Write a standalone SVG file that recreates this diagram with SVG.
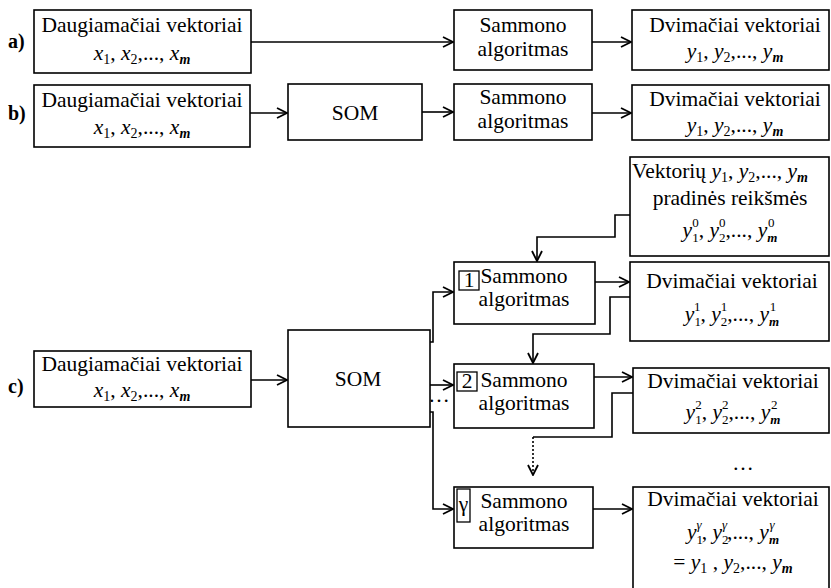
<svg xmlns="http://www.w3.org/2000/svg" width="831" height="588" viewBox="0 0 831 588">
<defs>
<style>
.b{fill:#fff;stroke:#000;stroke-width:1.6}
.sb{fill:none;stroke:#000;stroke-width:1.3}
.t{font-family:"Liberation Serif","Times New Roman",serif;font-size:21.5px;fill:#000}
.c{text-anchor:middle}
.lab{font-family:"Liberation Serif","Times New Roman",serif;font-size:20px;font-weight:bold}
.i{font-style:italic}
.s{font-size:14px;font-style:normal}
.p{font-size:13px;font-style:normal}
.sm{font-size:14px;font-style:italic;font-weight:bold}
.pm{font-size:13px;font-style:italic;font-weight:bold}
.sg{font-size:13px;font-style:italic}
.k{fill:none;stroke:#000;stroke-width:1.6}
.d{stroke-dasharray:2 2}
</style>
<marker id="ar" viewBox="0 0 12 12" refX="11" refY="6" markerWidth="12" markerHeight="12" markerUnits="userSpaceOnUse" orient="auto">
<path d="M1,1 L11,6 L1,11" fill="none" stroke="#000" stroke-width="1.8"/>
</marker>
</defs>
<rect width="831" height="588" fill="#fff"/>

<text class="lab" x="8" y="48">a)</text>
<text class="lab" x="8" y="120">b)</text>
<text class="lab" x="8" y="393">c)</text>

<g id="connectors">
<path class="k" d="M251,42 H453" marker-end="url(#ar)"/>
<path class="k" d="M592,42 H631" marker-end="url(#ar)"/>
<path class="k" d="M250,113 H287" marker-end="url(#ar)"/>
<path class="k" d="M422,112 H453" marker-end="url(#ar)"/>
<path class="k" d="M592,113 H631" marker-end="url(#ar)"/>
<path class="k" d="M251,380 H287" marker-end="url(#ar)"/>
<path class="k" d="M430,342 H433 V292 H453" marker-end="url(#ar)"/>
<path class="k" d="M430,385 H453" marker-end="url(#ar)"/>
<path class="k" d="M430,412 H433 V509 H453" marker-end="url(#ar)"/>
<path class="k" d="M630,215 H615 V237 H537 V261" marker-end="url(#ar)"/>
<path class="k" d="M595,282 H629" marker-end="url(#ar)"/>
<path class="k" d="M630,297 H610 V334 H533 V363" marker-end="url(#ar)"/>
<path class="k" d="M594,377 H632" marker-end="url(#ar)"/>
<path class="k" d="M633,393 H612 V437 H533"/>
<path class="k d" d="M533,437 V475" marker-end="url(#ar)"/>
<path class="k" d="M593,509 H632" marker-end="url(#ar)"/>
<text class="t c" x="439" y="402" font-size="18">…</text>
<text class="t c" x="743" y="470" font-size="18">…</text>
</g>

<g id="a_in">
<rect class="b" x="34" y="10" width="217" height="63"/>
<text class="t c" x="142" y="32">Daugiamačiai vektoriai</text>
<text class="t c" x="142" y="60"><tspan class="i">x</tspan><tspan class="s" dy="4">1</tspan><tspan dy="-4">, </tspan><tspan class="i">x</tspan><tspan class="s" dy="4">2</tspan><tspan dy="-4">,..., </tspan><tspan class="i">x</tspan><tspan class="sm" dy="4">m</tspan></text>
</g>
<g id="a_sam">
<rect class="b" x="454" y="10" width="138" height="60"/>
<text class="t c" x="523" y="32">Sammono</text>
<text class="t c" x="523" y="56">algoritmas</text>
</g>
<g id="a_out">
<rect class="b" x="632" y="10" width="197" height="60"/>
<text class="t c" x="735" y="32">Dvimačiai vektoriai</text>
<text class="t c" x="735" y="58"><tspan class="i">y</tspan><tspan class="s" dy="4">1</tspan><tspan dy="-4">, </tspan><tspan class="i">y</tspan><tspan class="s" dy="4">2</tspan><tspan dy="-4">,..., </tspan><tspan class="i">y</tspan><tspan class="sm" dy="4">m</tspan></text>
</g>

<g id="b_in">
<rect class="b" x="34" y="85" width="216" height="62"/>
<text class="t c" x="142" y="107">Daugiamačiai vektoriai</text>
<text class="t c" x="142" y="134"><tspan class="i">x</tspan><tspan class="s" dy="4">1</tspan><tspan dy="-4">, </tspan><tspan class="i">x</tspan><tspan class="s" dy="4">2</tspan><tspan dy="-4">,..., </tspan><tspan class="i">x</tspan><tspan class="sm" dy="4">m</tspan></text>
</g>
<g id="b_som">
<rect class="b" x="288" y="84" width="134" height="56"/>
<text class="t c" x="355" y="120" font-size="22.5">SOM</text>
</g>
<g id="b_sam">
<rect class="b" x="454" y="84" width="138" height="56"/>
<text class="t c" x="523" y="104">Sammono</text>
<text class="t c" x="523" y="128">algoritmas</text>
</g>
<g id="b_out">
<rect class="b" x="632" y="85" width="197" height="55"/>
<text class="t c" x="735" y="106">Dvimačiai vektoriai</text>
<text class="t c" x="735" y="132"><tspan class="i">y</tspan><tspan class="s" dy="4">1</tspan><tspan dy="-4">, </tspan><tspan class="i">y</tspan><tspan class="s" dy="4">2</tspan><tspan dy="-4">,..., </tspan><tspan class="i">y</tspan><tspan class="sm" dy="4">m</tspan></text>
</g>

<g id="c_in">
<rect class="b" x="34" y="351" width="217" height="56"/>
<text class="t c" x="142" y="371">Daugiamačiai vektoriai</text>
<text class="t c" x="142" y="397"><tspan class="i">x</tspan><tspan class="s" dy="4">1</tspan><tspan dy="-4">, </tspan><tspan class="i">x</tspan><tspan class="s" dy="4">2</tspan><tspan dy="-4">,..., </tspan><tspan class="i">x</tspan><tspan class="sm" dy="4">m</tspan></text>
</g>
<g id="c_som">
<rect class="b" x="288" y="330" width="142" height="97"/>
<text class="t c" x="358" y="386" font-size="22.5">SOM</text>
</g>

<g id="c_init">
<rect class="b" x="630" y="157" width="199" height="99"/>
<text class="t" x="632" y="178">Vektorių  <tspan class="i">y</tspan><tspan class="s" dy="4">1</tspan><tspan dy="-4">, </tspan><tspan class="i">y</tspan><tspan class="s" dy="4">2</tspan><tspan dy="-4">,..., </tspan><tspan class="i">y</tspan><tspan class="sm" dy="4">m</tspan></text>
<text class="t c" x="730" y="205">pradinės reikšmės</text>
<text class="t c" x="730" y="237"><tspan class="i">y</tspan><tspan class="p" dy="5">1</tspan><tspan class="p" dx="-6.5" dy="-15">0</tspan><tspan dy="10">, </tspan><tspan class="i">y</tspan><tspan class="p" dy="5">2</tspan><tspan class="p" dx="-6.5" dy="-15">0</tspan><tspan dy="10">,..., </tspan><tspan class="i">y</tspan><tspan class="pm" dy="5">m</tspan><tspan class="p" dx="-9.5" dy="-15">0</tspan></text>
</g>

<g id="c_sam1">
<rect class="b" x="454" y="262" width="141" height="62"/>
<rect class="sb" x="459" y="271" width="20" height="19"/>
<text class="t c" x="469" y="287" font-size="16">1</text>
<text class="t c" x="524" y="283">Sammono</text>
<text class="t c" x="524" y="306">algoritmas</text>
</g>
<g id="c_out1">
<rect class="b" x="630" y="262" width="199" height="79"/>
<text class="t c" x="732" y="288">Dvimačiai vektoriai</text>
<text class="t c" x="732" y="321"><tspan class="i">y</tspan><tspan class="p" dy="5">1</tspan><tspan class="p" dx="-6.5" dy="-15">1</tspan><tspan dy="10">, </tspan><tspan class="i">y</tspan><tspan class="p" dy="5">2</tspan><tspan class="p" dx="-6.5" dy="-15">1</tspan><tspan dy="10">,..., </tspan><tspan class="i">y</tspan><tspan class="pm" dy="5">m</tspan><tspan class="p" dx="-9.5" dy="-15">1</tspan></text>
</g>

<g id="c_sam2">
<rect class="b" x="454" y="364" width="140" height="64"/>
<rect class="sb" x="457" y="372" width="20" height="19"/>
<text class="t c" x="467" y="388" font-size="16">2</text>
<text class="t c" x="524" y="387">Sammono</text>
<text class="t c" x="524" y="410">algoritmas</text>
</g>
<g id="c_out2">
<rect class="b" x="633" y="368" width="196" height="65"/>
<text class="t c" x="733" y="388">Dvimačiai vektoriai</text>
<text class="t c" x="733" y="419"><tspan class="i">y</tspan><tspan class="p" dy="5">1</tspan><tspan class="p" dx="-6.5" dy="-15">2</tspan><tspan dy="10">, </tspan><tspan class="i">y</tspan><tspan class="p" dy="5">2</tspan><tspan class="p" dx="-6.5" dy="-15">2</tspan><tspan dy="10">,..., </tspan><tspan class="i">y</tspan><tspan class="pm" dy="5">m</tspan><tspan class="p" dx="-9.5" dy="-15">2</tspan></text>
</g>

<g id="c_samg">
<rect class="b" x="454" y="487" width="139" height="61"/>
<rect class="sb" x="457" y="489" width="13" height="33"/>
<text class="t c" x="463.5" y="511" font-size="17">γ</text>
<text class="t c" x="524" y="508">Sammono</text>
<text class="t c" x="524" y="531">algoritmas</text>
</g>
<g id="c_outg">
<rect class="b" x="633" y="487" width="196" height="110"/>
<text class="t c" x="733" y="506">Dvimačiai vektoriai</text>
<text class="t c" x="733" y="539"><tspan class="i">y</tspan><tspan class="p" dy="5">1</tspan><tspan class="sg" dx="-6.5" dy="-15">γ</tspan><tspan dy="10">, </tspan><tspan class="i">y</tspan><tspan class="p" dy="5">2</tspan><tspan class="sg" dx="-6.5" dy="-15">γ</tspan><tspan dy="10">,..., </tspan><tspan class="i">y</tspan><tspan class="pm" dy="5">m</tspan><tspan class="sg" dx="-9.5" dy="-15">γ</tspan></text>
<text class="t c" x="733" y="569">= <tspan class="i">y</tspan><tspan class="s" dy="4">1</tspan><tspan dy="-4"> , </tspan><tspan class="i">y</tspan><tspan class="s" dy="4">2</tspan><tspan dy="-4">,..., </tspan><tspan class="i">y</tspan><tspan class="sm" dy="4">m</tspan></text>
</g>
</svg>
